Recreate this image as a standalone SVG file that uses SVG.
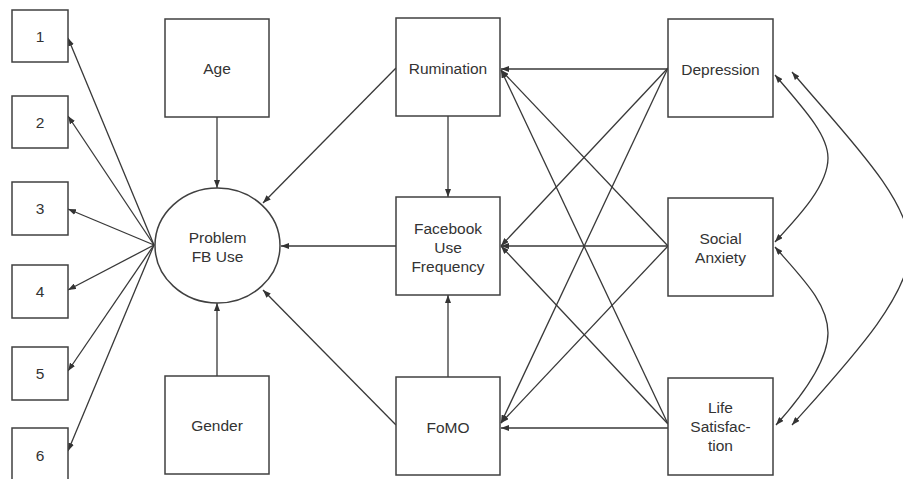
<svg xmlns="http://www.w3.org/2000/svg" width="903" height="479" viewBox="0 0 903 479">
<defs>
<marker id="ah" viewBox="0 0 8 6" refX="8" refY="3" markerWidth="8" markerHeight="6" markerUnits="userSpaceOnUse" orient="auto-start-reverse">
<path d="M0,0 L8,3 L0,6 z" fill="#333"/>
</marker>
<style>
.box{fill:#fff;stroke:#404040;stroke-width:1.5}
.t{font-family:"Liberation Sans",Arial,sans-serif;font-size:15.5px;fill:#333;text-anchor:middle}
.c{fill:none;stroke:#383838;stroke-width:1.3;marker-end:url(#ah)}
.d{fill:none;stroke:#383838;stroke-width:1.3;marker-start:url(#ah);marker-end:url(#ah)}
</style>
</defs>
<rect width="903" height="479" fill="#fff"/>
<g id="connectors">
<line class="c" x1="154" y1="245" x2="68" y2="38"/>
<line class="c" x1="154" y1="245" x2="68" y2="116"/>
<line class="c" x1="154" y1="245" x2="68" y2="209"/>
<line class="c" x1="154" y1="245" x2="68" y2="290"/>
<line class="c" x1="154" y1="245" x2="68" y2="371"/>
<line class="c" x1="154" y1="245" x2="68" y2="451"/>
<line class="c" x1="217" y1="117" x2="217" y2="188"/>
<line class="c" x1="217" y1="376" x2="217" y2="303"/>
<line class="c" x1="396" y1="68" x2="263" y2="203"/>
<line class="c" x1="396" y1="246" x2="281" y2="246"/>
<line class="c" x1="396" y1="425" x2="263" y2="290"/>
<line class="c" x1="448" y1="116" x2="448" y2="197"/>
<line class="c" x1="448" y1="377" x2="448" y2="295"/>
<line class="c" x1="668" y1="69" x2="501" y2="69"/>
<line class="c" x1="668" y1="68" x2="501" y2="246"/>
<line class="c" x1="668" y1="68" x2="501" y2="423"/>
<line class="c" x1="668" y1="246" x2="501" y2="70"/>
<line class="c" x1="668" y1="246" x2="501" y2="246"/>
<line class="c" x1="668" y1="246" x2="501" y2="423"/>
<line class="c" x1="668" y1="424" x2="501" y2="70"/>
<line class="c" x1="668" y1="424" x2="501" y2="246"/>
<line class="c" x1="668" y1="428" x2="501" y2="428"/>
<path class="d" d="M775,75 C805,110 828,135 828,158 C828,185 800,215 775,242"/>
<path class="d" d="M775,247 C802,278 828,303 828,333 C828,360 803,395 776,425"/>
<path class="d" d="M792,72 C850,140 910,200 910,248 C910,296 850,360 792,425"/>
</g>
<g id="n1"><rect class="box" x="12" y="10" width="56" height="52"/><text class="t" x="40" y="42">1</text></g>
<g id="n2"><rect class="box" x="12" y="96" width="56" height="52"/><text class="t" x="40" y="127.5">2</text></g>
<g id="n3"><rect class="box" x="12" y="182" width="56" height="53"/><text class="t" x="40" y="214">3</text></g>
<g id="n4"><rect class="box" x="12" y="265" width="56" height="53"/><text class="t" x="40" y="297">4</text></g>
<g id="n5"><rect class="box" x="12" y="347" width="56" height="53"/><text class="t" x="40" y="379">5</text></g>
<g id="n6"><rect class="box" x="12" y="428" width="56" height="53"/><text class="t" x="40" y="461">6</text></g>
<g id="age"><rect class="box" x="165" y="19" width="104" height="98"/><text class="t" x="217" y="74">Age</text></g>
<g id="gender"><rect class="box" x="165" y="376" width="104" height="98"/><text class="t" x="217" y="431">Gender</text></g>
<g id="pfu"><ellipse class="box" cx="217.5" cy="245.5" rx="62.5" ry="57.5"/><text class="t" x="217.5" y="243">Problem</text><text class="t" x="217.5" y="262">FB Use</text></g>
<g id="rumination"><rect class="box" x="396" y="18" width="104" height="98"/><text class="t" x="448" y="73.5">Rumination</text></g>
<g id="fuf"><rect class="box" x="396" y="197" width="104" height="98"/><text class="t" x="448" y="233.5">Facebook</text><text class="t" x="448" y="252.5">Use</text><text class="t" x="448" y="271.5">Frequency</text></g>
<g id="fomo"><rect class="box" x="396" y="377" width="104" height="98"/><text class="t" x="448" y="432.5">FoMO</text></g>
<g id="depression"><rect class="box" x="668" y="19" width="105" height="98"/><text class="t" x="720.5" y="74.5">Depression</text></g>
<g id="social"><rect class="box" x="668" y="198" width="105" height="98"/><text class="t" x="720.5" y="243.5">Social</text><text class="t" x="720.5" y="262.5">Anxiety</text></g>
<g id="life"><rect class="box" x="668" y="378" width="105" height="97"/><text class="t" x="720.5" y="412.5">Life</text><text class="t" x="720.5" y="432">Satisfac-</text><text class="t" x="720.5" y="450.5">tion</text></g>
</svg>
